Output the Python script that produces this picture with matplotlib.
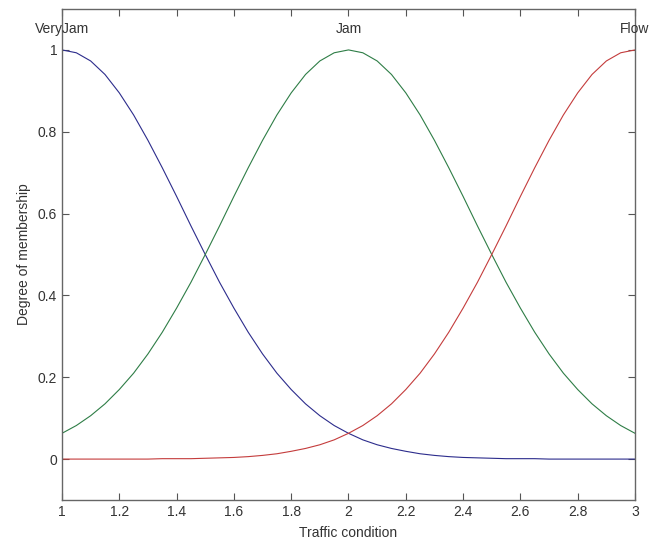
import matplotlib.pyplot as plt
import numpy as np

# traffic condition axis, step 0.05
x = [1.00, 1.05, 1.10, 1.15, 1.20, 1.25, 1.30, 1.35, 1.40, 1.45,
     1.50, 1.55, 1.60, 1.65, 1.70, 1.75, 1.80, 1.85, 1.90, 1.95,
     2.00, 2.05, 2.10, 2.15, 2.20, 2.25, 2.30, 2.35, 2.40, 2.45,
     2.50, 2.55, 2.60, 2.65, 2.70, 2.75, 2.80, 2.85, 2.90, 2.95, 3.00]

# membership values
very_jam = [1.000, 0.993, 0.973, 0.940, 0.895, 0.841, 0.779, 0.712, 0.642, 0.570,
            0.500, 0.432, 0.369, 0.310, 0.257, 0.210, 0.170, 0.135, 0.106, 0.082,
            0.063, 0.047, 0.035, 0.026, 0.019, 0.013, 0.009, 0.006, 0.004, 0.003,
            0.002, 0.001, 0.001, 0.001, 0.000, 0.000, 0.000, 0.000, 0.000, 0.000, 0.000]
jam = [0.063, 0.082, 0.106, 0.135, 0.170, 0.210, 0.257, 0.310, 0.369, 0.432,
       0.500, 0.570, 0.642, 0.712, 0.779, 0.841, 0.895, 0.940, 0.973, 0.993,
       1.000, 0.993, 0.973, 0.940, 0.895, 0.841, 0.779, 0.712, 0.642, 0.570,
       0.500, 0.432, 0.369, 0.310, 0.257, 0.210, 0.170, 0.135, 0.106, 0.082, 0.063]
flow = very_jam[::-1]

labels = ["VeryJam", "Jam", "Flow"]
peaks = [1, 2, 3]
colors = ["#2c2c8c", "#2e7d46", "#c43c3c"]

plt.rcParams['font.family'] = ['Liberation Sans', 'DejaVu Sans']
fig = plt.figure(figsize=(6.52, 5.43), dpi=100)
ax = fig.add_axes([62 / 652, 1 - 500 / 543, (635 - 62) / 652, (500 - 9) / 543])

for ys, c in zip([very_jam, jam, flow], colors):
    ax.plot(x, ys, color=c, linewidth=0.8)

for lab, p in zip(labels, peaks):
    ax.text(p, 1.05, lab, ha='center', va='center', fontsize=10, color='#333333')

ax.set_xlim(1, 3)
ax.set_ylim(-0.1, 1.1)
ax.set_xticks(np.arange(1, 3.01, 0.2))
ax.set_xticklabels(["1", "1.2", "1.4", "1.6", "1.8", "2", "2.2", "2.4", "2.6", "2.8", "3"])
ax.set_yticks(np.arange(0, 1.01, 0.2))
ax.set_yticklabels(["0", "0.2", "0.4", "0.6", "0.8", "1"])
ax.tick_params(direction='in', top=True, right=True, length=5, width=0.8,
               colors='#555555', labelcolor='#333333', labelsize=10)
for s in ax.spines.values():
    s.set_color('#666666')
    s.set_linewidth(1)
ax.set_xlabel("Traffic condition", fontsize=10, color='#333333', labelpad=5)
ax.set_ylabel("Degree of membership", fontsize=10, color='#333333', labelpad=5)

fig.savefig('out.png', dpi=100)
